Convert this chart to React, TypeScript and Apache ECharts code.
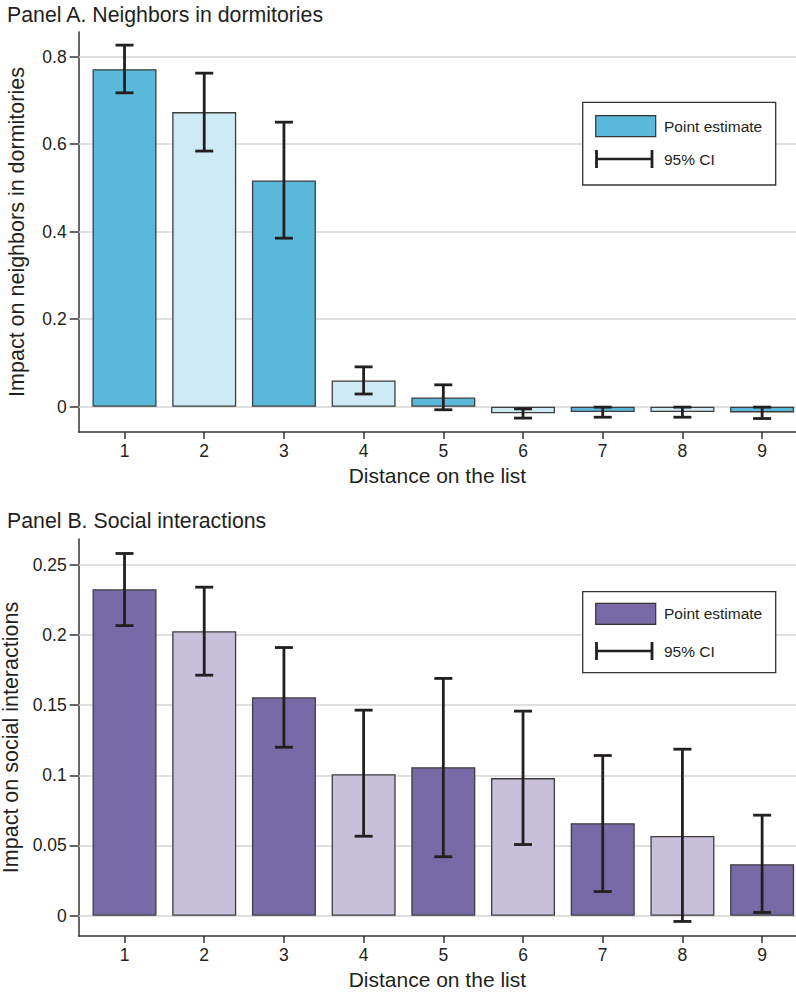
import React, { useEffect, useRef } from "react";
import * as echarts from "echarts";

const distances = [1, 2, 3, 4, 5, 6, 7, 8, 9];

const neighborsEst = [0.771, 0.673, 0.517, 0.06, 0.021, -0.015, -0.012, -0.012, -0.013];
const neighborsLo = [0.717, 0.584, 0.385, 0.029, -0.007, -0.026, -0.024, -0.024, -0.027];
const neighborsHi = [0.826, 0.762, 0.650, 0.091, 0.050, -0.005, -0.001, -0.001, -0.001];

const socialEst = [0.2325, 0.2026, 0.1556, 0.1008, 0.1058, 0.098, 0.0659, 0.0568, 0.0367];
const socialLo = [0.2066, 0.1713, 0.12, 0.0566, 0.042, 0.0507, 0.0172, -0.0041, 0.0023];
const socialHi = [0.258, 0.234, 0.191, 0.1464, 0.169, 0.1457, 0.1141, 0.1186, 0.0716];

const neighborsTicks = [0, 0.2, 0.4, 0.6, 0.8];
const socialTicks = [0, 0.05, 0.1, 0.15, 0.2, 0.25];

const FONT = "'Liberation Sans', Arial, Helvetica, sans-serif";
const INK = "#231f20";

export default function App() {
  const ref = useRef<HTMLDivElement>(null);

  useEffect(() => {
    if (!ref.current) return;
    const chart = echarts.init(ref.current, undefined, { renderer: "svg" });

    const xAxisBase = (gridIndex: number) => ({
      type: "value",
      gridIndex,
      min: 0.425,
      max: 9.425,
      name: "Distance on the list",
      nameLocation: "middle",
      nameGap: 33,
      nameTextStyle: { fontSize: 21, color: INK, fontFamily: FONT },
      axisLine: { show: true, onZero: false, lineStyle: { color: "#333", width: 1.5 } },
      axisTick: { show: true, length: 7, customValues: distances, lineStyle: { color: "#333", width: 1.5 } },
      axisLabel: {
        show: true,
        customValues: distances,
        fontSize: 17.5,
        color: INK,
        fontFamily: FONT,
        margin: 10,
        formatter: (v: number) => String(v),
      },
      splitLine: { show: false },
    });

    const yAxisBase = (gridIndex: number, min: number, max: number, name: string, ticks: number[]) => ({
      type: "value",
      gridIndex,
      min,
      max,
      name,
      nameLocation: "middle",
      nameGap: 51,
      nameTextStyle: { fontSize: 21.5, color: INK, fontFamily: FONT },
      axisLine: { show: true, onZero: false, lineStyle: { color: "#333", width: 1.5 } },
      axisTick: { show: true, length: 9, customValues: ticks, lineStyle: { color: "#333", width: 1.5 } },
      axisLabel: {
        show: true,
        customValues: ticks,
        fontSize: 17.5,
        color: INK,
        fontFamily: FONT,
        margin: 12,
        formatter: (v: number) => String(v),
      },
      splitLine: { show: false },
    });

    const gridLines = (ticks: number[]) => ({
      silent: true,
      z: 1,
      symbol: ["none", "none"],
      label: { show: false },
      lineStyle: { color: "#d4d4d4", width: 1.5, type: "solid" },
      emphasis: { disabled: true },
      data: ticks.map((t) => ({ yAxis: t })),
    });

    const barSeries = (idx: number, est: number[], dark: string, light: string, ticks: number[]) => ({
      type: "bar",
      xAxisIndex: idx,
      yAxisIndex: idx,
      barWidth: 64,
      z: 2,
      data: distances.map((d, i) => [d, est[i]]),
      itemStyle: {
        color: (p: any) => (p.dataIndex % 2 === 0 ? dark : light),
        borderColor: "#3d3d3d",
        borderWidth: 1.3,
      },
      markLine: gridLines(ticks),
    });

    const errSeries = (idx: number, lo: number[], hi: number[]) => ({
      type: "custom",
      xAxisIndex: idx,
      yAxisIndex: idx,
      z: 5,
      encode: { x: 0, y: [1, 2] },
      data: distances.map((d, i) => [d, lo[i], hi[i]]),
      renderItem: (_params: any, api: any) => {
        const x = api.value(0);
        const top = api.coord([x, api.value(2)]);
        const bot = api.coord([x, api.value(1)]);
        const w = 9;
        const style = { stroke: INK, lineWidth: 2.8 };
        return {
          type: "group",
          children: [
            { type: "line", shape: { x1: top[0], y1: top[1], x2: bot[0], y2: bot[1] }, style },
            { type: "line", shape: { x1: top[0] - w, y1: top[1], x2: top[0] + w, y2: top[1] }, style },
            { type: "line", shape: { x1: bot[0] - w, y1: bot[1], x2: bot[0] + w, y2: bot[1] }, style },
          ],
        };
      },
    });

    const legend = (boxTop: number, boxH: number, swTop: number, ciY: number, color: string) => [
      {
        type: "rect",
        shape: { x: 582.7, y: boxTop, width: 193, height: boxH },
        style: { fill: "#fff", stroke: "#333", lineWidth: 1.3 },
        z: 10,
      },
      {
        type: "rect",
        shape: { x: 595.7, y: swTop, width: 60, height: 21 },
        style: { fill: color, stroke: "#333", lineWidth: 1.2 },
        z: 11,
      },
      {
        type: "text",
        x: 664,
        y: swTop + 10.5,
        style: { text: "Point estimate", fontSize: 15.5, fontFamily: FONT, fill: INK, verticalAlign: "middle" },
        z: 11,
      },
      {
        type: "line",
        shape: { x1: 596.5, y1: ciY, x2: 652, y2: ciY },
        style: { stroke: INK, lineWidth: 2.6 },
        z: 11,
      },
      {
        type: "line",
        shape: { x1: 596.5, y1: ciY - 9, x2: 596.5, y2: ciY + 9 },
        style: { stroke: INK, lineWidth: 2.8 },
        z: 11,
      },
      {
        type: "line",
        shape: { x1: 652, y1: ciY - 9, x2: 652, y2: ciY + 9 },
        style: { stroke: INK, lineWidth: 2.8 },
        z: 11,
      },
      {
        type: "text",
        x: 664,
        y: ciY,
        style: { text: "95% CI", fontSize: 15.5, fontFamily: FONT, fill: INK, verticalAlign: "middle" },
        z: 11,
      },
    ];

    chart.setOption({
      animation: false,
      backgroundColor: "#fff",
      textStyle: { fontFamily: FONT },
      grid: [
        { left: 78.7, top: 32, right: 0, height: 400, containLabel: false, outerBoundsMode: "none" },
        { left: 78.7, top: 539, right: 0, height: 397, containLabel: false, outerBoundsMode: "none" },
      ],
      xAxis: [xAxisBase(0), xAxisBase(1)],
      yAxis: [
        yAxisBase(0, -0.0578, 0.856, "Impact on neighbors in dormitories", neighborsTicks),
        yAxisBase(1, -0.01446, 0.2683, "Impact on social interactions", socialTicks),
      ],
      series: [
        barSeries(0, neighborsEst, "#5ab9db", "#cdeaf5", neighborsTicks),
        errSeries(0, neighborsLo, neighborsHi),
        barSeries(1, socialEst, "#786aa7", "#c8bfdb", socialTicks),
        errSeries(1, socialLo, socialHi),
      ],
      graphic: [
        {
          type: "text",
          x: 7,
          y: 15,
          style: {
            text: "Panel A. Neighbors in dormitories",
            fontSize: 21.3,
            fontFamily: FONT,
            fill: INK,
            verticalAlign: "middle",
          },
        },
        {
          type: "text",
          x: 7,
          y: 521,
          style: {
            text: "Panel B. Social interactions",
            fontSize: 21.3,
            fontFamily: FONT,
            fill: INK,
            verticalAlign: "middle",
          },
        },
        ...legend(102.3, 82.7, 115.7, 159, "#5ab9db"),
        ...legend(591.7, 81, 603.3, 651, "#786aa7"),
      ],
    });

    return () => chart.dispose();
  }, []);

  return (
    <div
      ref={ref}
      style={{ position: "absolute", left: 0, top: 0, width: 796, height: 992 }}
    />
  );
}
